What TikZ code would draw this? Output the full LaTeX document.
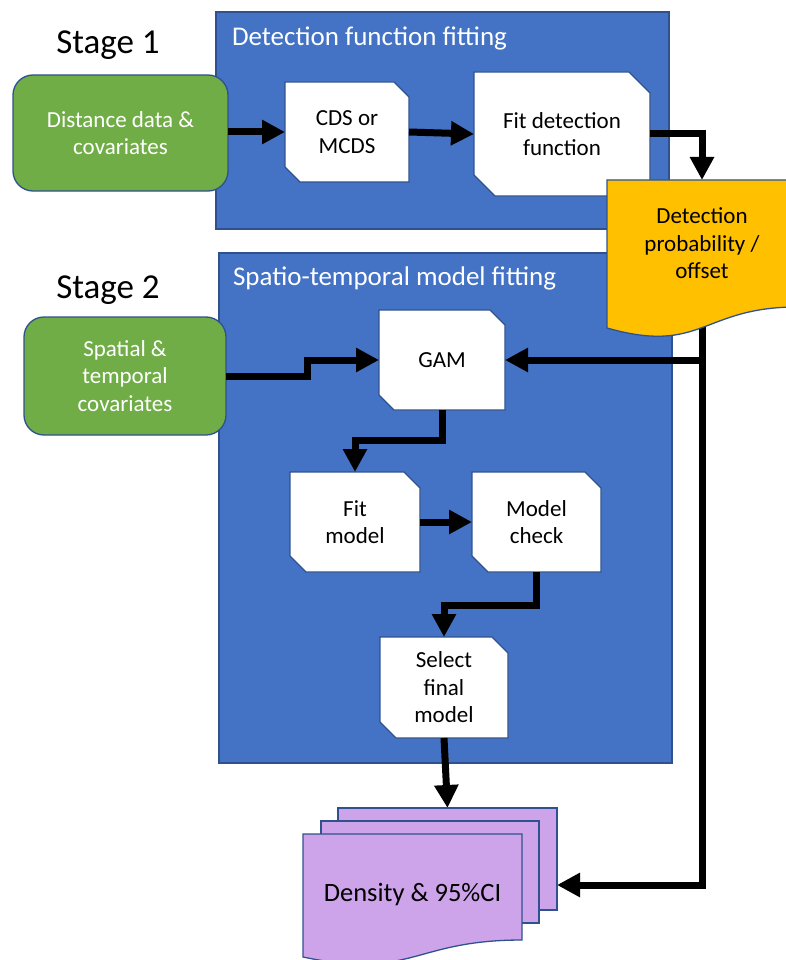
\documentclass[tikz,border=0pt]{standalone}
\usepackage{fontspec}
\setmainfont{Carlito}
\usetikzlibrary{arrows.meta,calc}
\pgfdeclarelayer{panel}
\pgfdeclarelayer{boxes}
\pgfdeclarelayer{arrows}
\pgfdeclarelayer{docs}
\pgfsetlayers{panel,boxes,arrows,docs,main}
\definecolor{pblue}{HTML}{4472C4}
\definecolor{oblue}{HTML}{2F528F}
\definecolor{pgreen}{HTML}{70AD47}
\definecolor{porange}{HTML}{FFC000}
\definecolor{ppurple}{HTML}{CDA4EA}
\newcommand\snipshape[2]{\draw[snipst] (#1.north west) -- ([xshift=-#2pt]#1.north east) -- ([yshift=-#2pt]#1.north east) -- (#1.south east) -- ([xshift=#2pt]#1.south west) -- ([yshift=#2pt]#1.south west) -- cycle;}
\begin{document}
\begin{tikzpicture}[x=1pt,y=-1pt,
 every node/.style={outer sep=0pt,inner sep=0pt},
 bodyfont/.style={font=\fontsize{23}{27.5}\selectfont},
 panelst/.style={draw=oblue,line width=1.3pt,fill=pblue},
 titlest/.style={text=white,font=\fontsize{27}{32}\selectfont,anchor=west},
 stagest/.style={font=\fontsize{35}{40}\selectfont},
 greenst/.style={draw=oblue,line width=1.3pt,fill=pgreen,rounded corners=20pt,text=white,align=center,bodyfont},
 snipnode/.style={align=center,bodyfont},
 snipst/.style={draw=oblue,line width=1.3pt,fill=white},
 docst/.style={draw=oblue,line width=1.3pt,fill=porange},
 densst/.style={draw=oblue,line width=1.3pt,fill=ppurple},
 arr/.style={line width=7pt,line join=miter,-{Triangle[length=23pt,width=23pt]}}
]
\useasboundingbox (0,0) rectangle (786,960);
\begin{pgfonlayer}{panel}
\node[panelst,minimum width=453pt,minimum height=217pt] (p1) at (442.5,120.5) {};
\node[panelst,minimum width=453pt,minimum height=510pt] (p2) at (445.5,508) {};
\node[titlest] (t1) at (232,38) {Detection function fitting};
\node[titlest] (t2) at (233,278) {Spatio-temporal model fitting};
\end{pgfonlayer}

\node[stagest] (s1) at (108,45) {Stage 1};
\node[stagest] (s2) at (108,290) {Stage 2};

\begin{pgfonlayer}{boxes}
\node[greenst,minimum width=215pt,minimum height=116pt] (g1) at (120.5,133) {Distance data \&\\covariates};
\node[greenst,minimum width=202pt,minimum height=118pt] (g2) at (125,376) {Spatial \&\\temporal\\covariates};
\end{pgfonlayer}

\node[snipnode,minimum width=124pt,minimum height=100pt] (cds) at (347,132) {CDS or\\MCDS};
\node[snipnode,minimum width=176pt,minimum height=124pt] (fitdet) at (562,134) {Fit detection\\function};
\node[snipnode,minimum width=126pt,minimum height=100pt] (gam) at (442,360) {GAM};
\node[snipnode,minimum width=130pt,minimum height=100pt] (fitm) at (355,522) {Fit\\model};
\node[snipnode,minimum width=129pt,minimum height=100pt] (mcheck) at (536.5,522) {Model\\check};
\node[snipnode,minimum width=128pt,minimum height=101pt] (select) at (444,687.5) {Select\\final\\model};

\begin{pgfonlayer}{boxes}
\snipshape{cds}{15}
\snipshape{fitdet}{21}
\snipshape{gam}{15}
\snipshape{fitm}{16}
\snipshape{mcheck}{16}
\snipshape{select}{16}
\end{pgfonlayer}

\node[snipnode,minimum width=190pt,minimum height=127pt] (doc) at (702,243.5) {Detection\\probability /\\offset};
\node[minimum width=219pt,minimum height=102pt] (d3) at (447.5,859) {};
\node[minimum width=218pt,minimum height=102pt] (d2) at (430,872) {};
\node[minimum width=219pt,minimum height=106pt] (d1) at (412.5,887) {};
\node[font=\fontsize{26.5}{31}\selectfont] (d1t) at (412.5,895) {Density \& 95\%CI};

\begin{pgfonlayer}{docs}
\draw[docst] (doc.north west) -- (doc.north east) -- (doc.south east) .. controls (doc.south) and ([yshift=-48pt]doc.south) .. ([yshift=-21pt]doc.south west) -- cycle;
\draw[densst] (d3.north west) rectangle (d3.south east);
\draw[densst] (d2.north west) rectangle (d2.south east);
\draw[densst] (d1.north west) -- (d1.north east) -- (d1.south east) .. controls (d1.south) and ([yshift=-40pt]d1.south) .. ([yshift=-17pt]d1.south west) -- cycle;
\end{pgfonlayer}

\coordinate (docb) at ([yshift=-20pt]doc.south);
\coordinate (densin) at ([yshift=-26pt]d3.east);

\begin{pgfonlayer}{arrows}
\draw[arr] (g1.east |- cds.west) -- (cds.west);
\draw[arr] (cds.east) -- (fitdet.west);
\draw[arr] (fitdet.east) -| (doc.north);
\draw[arr] (docb) |- (densin);
\draw[arr] (docb |- gam.east) -- (gam.east);
\draw[arr] (g2.east) -- ([xshift=81pt]g2.east) |- (gam.west);
\draw[arr] (gam.south) -- ++(0,30) -| (fitm.north);
\draw[arr] (fitm.east) -- (mcheck.west);
\draw[arr] (mcheck.south) -- ++(0,33) -| (select.north);
\draw[arr] (select.south) -- (d3.north);
\end{pgfonlayer}
\end{tikzpicture}
\end{document}
